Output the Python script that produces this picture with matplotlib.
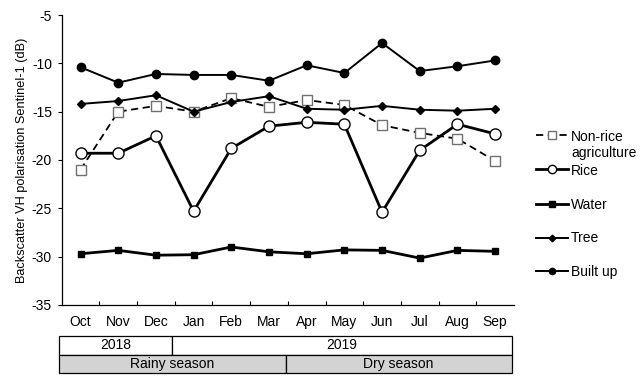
import matplotlib
matplotlib.use("Agg")
import matplotlib.pyplot as plt
from matplotlib.patches import Rectangle

plt.rcParams['font.family'] = ['Liberation Sans', 'DejaVu Sans']
plt.rcParams['font.size'] = 10

months = ["Oct", "Nov", "Dec", "Jan", "Feb", "Mar", "Apr", "May", "Jun", "Jul", "Aug", "Sep"]
non_rice = [-21.0, -15.0, -14.4, -15.0, -13.6, -14.5, -13.8, -14.3, -16.4, -17.2, -17.8, -20.1]
rice = [-19.3, -19.3, -17.5, -25.3, -18.8, -16.5, -16.1, -16.3, -25.4, -19.0, -16.3, -17.3]
water = [-29.7, -29.35, -29.85, -29.8, -29.0, -29.5, -29.7, -29.3, -29.35, -30.15, -29.35, -29.45]
tree = [-14.2, -13.9, -13.3, -15.0, -14.0, -13.4, -14.7, -14.8, -14.4, -14.8, -14.9, -14.7]
built_up = [-10.4, -12.0, -11.1, -11.2, -11.2, -11.8, -10.2, -11.0, -7.9, -10.8, -10.3, -9.7]
years = [("2018", 0, 3), ("2019", 3, 12)]
seasons = [("Rainy season", 0, 6), ("Dry season", 6, 12)]
y_ticks = [-5, -10, -15, -20, -25, -30, -35]
y_label = "Backscatter VH polarisation Sentinel-1 (dB)"

fig = plt.figure(figsize=(6.4, 3.79), dpi=100)
ax = fig.add_axes([0.0964, 0.1953, 0.7067, 0.7651])
x = [i + 0.5 for i in range(len(months))]

l1, = ax.plot(x, non_rice, ls=(0, (4, 2.5)), color='black', lw=1.3, marker='s', ms=7,
              mfc='white', mec='#707070', mew=1.0, label='Non-rice\nagriculture', zorder=3)
l2, = ax.plot(x, rice, ls='-', color='black', lw=2.0, marker='o', ms=8,
              mfc='white', mec='black', mew=1.0, label='Rice', zorder=3)
l3, = ax.plot(x, water, ls='-', color='black', lw=2.0, marker='s', ms=5,
              mfc='black', mec='black', label='Water', zorder=3)
l4, = ax.plot(x, tree, ls='-', color='black', lw=1.4, marker='D', ms=4.5,
              mfc='black', mec='black', label='Tree', zorder=3)
l5, = ax.plot(x, built_up, ls='-', color='black', lw=1.4, marker='o', ms=6,
              mfc='black', mec='black', label='Built up', zorder=3)

ax.set_xlim(0, 12)
ax.set_ylim(-35, -5)
ax.set_yticks(y_ticks)
ax.set_yticklabels([str(v) for v in y_ticks])
ax.set_xticks(x)
ax.set_xticklabels(months)
ax.set_xticks(range(1, 12), minor=True)
ax.tick_params(axis='x', which='major', length=0, pad=7)
ax.tick_params(axis='x', which='minor', direction='in', length=3, width=0.8)
ax.tick_params(axis='y', direction='out', length=3, width=0.8, pad=4)
for s in ['top', 'right']:
    ax.spines[s].set_visible(False)
for s in ['left', 'bottom']:
    ax.spines[s].set_linewidth(0.9)
ax.set_ylabel(y_label, labelpad=3, fontsize=9.2)

common = dict(loc='upper left', bbox_transform=fig.transFigure, frameon=False,
              handlelength=2.3, handletextpad=0.2, markerscale=0.75,
              borderaxespad=0, borderpad=0)
leg1 = ax.legend(handles=[l1, l2], bbox_to_anchor=(0.838, 0.657), labelspacing=0.3, **common)
for col in leg1._legend_handle_box.get_children():
    for item in col.get_children():
        item.align = 'top'
ax.add_artist(leg1)
leg2 = ax.legend(handles=[l3, l4, l5], bbox_to_anchor=(0.838, 0.4776), labelspacing=1.4, **common)

# table below
tax = fig.add_axes([0.0927, 0.0158, 0.7069, 0.0976])
tax.set_xlim(0, 12)
tax.set_ylim(0, 2)
tax.axis('off')
for label, a, b in years:
    tax.add_patch(Rectangle((a, 1), b - a, 1, facecolor='white', edgecolor='black', lw=0.9, clip_on=False))
    tax.text((a + b) / 2, 1.5, label, ha='center', va='center', fontsize=10)
for label, a, b in seasons:
    tax.add_patch(Rectangle((a, 0), b - a, 1, facecolor='#d3d3d3', edgecolor='black', lw=0.9, clip_on=False))
    tax.text((a + b) / 2, 0.5, label, ha='center', va='center', fontsize=10)

fig.savefig("out.png", dpi=100)
